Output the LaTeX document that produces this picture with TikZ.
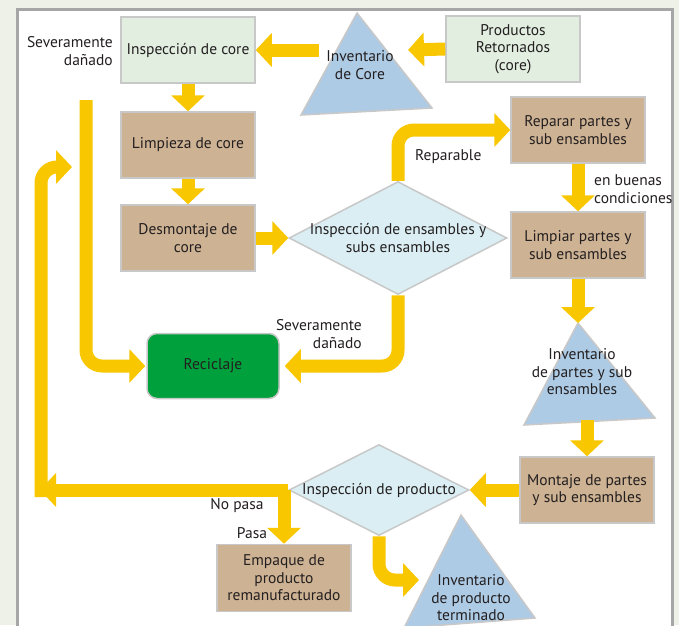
\documentclass[tikz,border=0pt]{standalone}
\usepackage{fontspec}
\setmainfont{PT Sans}
\usetikzlibrary{shapes.geometric,arrows.meta}

\begin{document}
\begin{tikzpicture}[x=1pt,y=-1pt,line cap=butt,
	font=\fontsize{15.5pt}{17.5pt}\selectfont,
	procbox/.style={draw=col_boxline, line width=1.5pt, minimum width=134pt, minimum height=66pt, align=center, text=col_txt, inner sep=2pt},
	greenbox/.style={procbox, fill=col_lgreen},
	tanbox/.style={procbox, fill=col_tan},
	decision/.style={diamond, draw=col_boxline, line width=1.5pt, fill=col_lblue, inner sep=0pt},
	lbl/.style={text=col_txt, inner sep=0pt},
	flow/.style={draw=col_yel, line width=13pt, rounded corners=16pt, -{Triangle[width=33pt,length=16pt]}}]
	\definecolor{col_bg}{RGB}{238, 241, 232}
	\definecolor{col_frame}{RGB}{166, 166, 166}
	\definecolor{col_boxline}{RGB}{200, 200, 200}
	\definecolor{col_txt}{RGB}{35, 31, 32}
	\definecolor{col_lgreen}{RGB}{225, 238, 224}
	\definecolor{col_tan}{RGB}{205, 178, 147}
	\definecolor{col_lblue}{RGB}{218, 238, 243}
	\definecolor{col_tri}{RGB}{174, 203, 230}
	\definecolor{col_recic}{RGB}{0, 160, 60}
	\definecolor{col_yel}{RGB}{248, 199, 0}
	\useasboundingbox (0,0) rectangle (679,625);
	\fill [col_bg] (0,0) rectangle (679,625);
	\draw [line width=3pt, col_frame, fill=white] (17,9) rectangle (672,640);
	% inventarios
	\filldraw [col_tri, draw=col_boxline, line width=1.5pt] (357,13) -- (432,108) -- (301,115) -- cycle;
	\filldraw [col_tri, draw=col_boxline, line width=1.5pt] (578,323) -- (655,418) -- (524,425) -- cycle;
	\filldraw [col_tri, draw=col_boxline, line width=1.5pt] (461,515) -- (535,618) -- (404,628) -- cycle;
	\node[lbl, align=center] (invcore) at (360,65) {Inventario\\de Core};
	\node[lbl, align=center] (invpartes) at (582,372) {Inventario\\de partes y sub\\ensambles};
	\node[lbl, align=center] (invprod) at (471,598) {Inventario\\de producto\\terminado};
	\coordinate (invcoreL) at (319,50);
	\coordinate (invcoreR) at (408,50);
	\coordinate (invpartesTop) at (578,323);
	\coordinate (invpartesBot) at (587,420);
	\coordinate (invprodL) at (419,580);
	% procesos
	\node[greenbox] (inspcore) at (188,50) {Inspección de core};
	\node[greenbox] (prodret) at (513,49) {Productos\\Retornados\\(core)};
	\node[tanbox] (limpieza) at (188,145) {Limpieza de core};
	\node[tanbox] (desmontaje) at (188,238) {Desmontaje de\\core};
	\node[procbox, fill=col_recic, rounded corners=10pt, minimum width=132pt, minimum height=65pt] (reciclaje) at (213,366) {Reciclaje};
	\node[tanbox] (reparar) at (578,130) {Reparar partes y\\sub ensambles};
	\node[tanbox] (limpiar) at (578,245) {Limpiar partes y\\sub ensambles};
	\node[tanbox] (montaje) at (587,490) {Montaje de partes\\y sub ensambles};
	\node[tanbox, minimum height=67pt] (empaque) at (284,578) {Empaque de\\producto\\remanufacturado};
	\node[decision, minimum width=218pt, minimum height=113pt,
		label={[lbl, align=center]center:Inspección de ensambles y\\subs ensambles}] (inspens) at (398,238) {};
	\node[decision, minimum width=180pt, minimum height=91pt,
		label={[lbl]center:Inspección de producto}] (insprod) at (379,490) {};
	% etiquetas
	\node[lbl, align=right, anchor=east] (sevA) at (113,51) {Severamente\\dañado};
	\node[lbl, anchor=west] (reparable) at (415,157) {Reparable};
	\node[lbl, align=left, anchor=west] (buenas) at (594,189) {en buenas\\condiciones};
	\node[lbl, align=right, anchor=east] (sevB) at (362,334) {Severamente\\dañado};
	\node[lbl] (nopasa) at (237,506) {No pasa};
	\node[lbl] (pasa) at (252,533) {Pasa};
	\coordinate (sevStart) at (86,100);
	\coordinate (loopBot) at (41,497);
	\coordinate (loopCorner) at (40,490);
	\coordinate (loopEnd) at (72,167);
	% flechas
	\draw [flow] (prodret.west) -- (invcoreR);
	\draw [flow] (invcoreL) -- (inspcore.east);
	\draw [flow] (inspcore.south) -- (limpieza.north);
	\draw [flow] (limpieza.south) -- (desmontaje.north);
	\draw [flow] (desmontaje.east) -- (inspens.west);
	\draw [flow] (inspens.north) |- (reparar.west);
	\draw [flow] (reparar.south) -- (limpiar.north);
	\draw [flow] (limpiar.south) -- (invpartesTop);
	\draw [flow] (invpartesBot) -- (montaje.north);
	\draw [flow] (montaje.west) -- (insprod.east);
	\draw [flow] (inspens.south) |- ([xshift=5pt]reciclaje.east);
	\draw [flow] (sevStart) |- ([xshift=-1pt]reciclaje.west);
	\draw [flow] (loopBot) |- (loopEnd);
	\draw [flow] (insprod.west) -- (loopCorner);
	\draw [flow] (empaque.north |- insprod.west) -- (empaque.north);
	\draw [flow] (insprod.south) |- (invprodL);
\end{tikzpicture}
\end{document}
